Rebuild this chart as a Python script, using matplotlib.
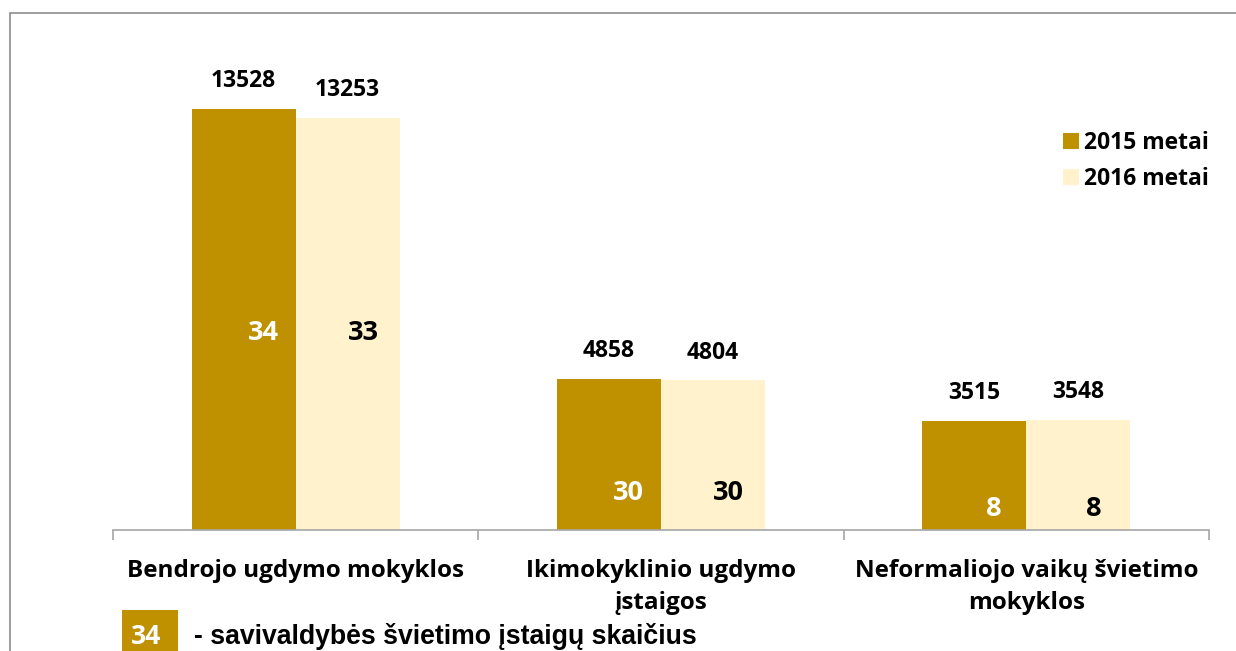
import matplotlib
matplotlib.use("Agg")
import matplotlib.pyplot as plt
from matplotlib.patches import Rectangle

categories = ["Bendrojo ugdymo mokyklos", "Ikimokyklinio ugdymo\nįstaigos", "Neformaliojo vaikų švietimo\nmokyklos"]
series_names = ["2015 metai", "2016 metai"]
values_2015 = [13528, 4858, 3515]
values_2016 = [13253, 4804, 3548]
counts_2015 = [34, 30, 8]
counts_2016 = [33, 30, 8]
count_label_y = [6330, 1190, 680]
note_text = "- savivaldybės švietimo įstaigų skaičius"
note_count = "34"

GOLD = "#BF9000"
LIGHT = "#FFF2CC"
GREY = "#A6A6A6"
FONT = ["Open Sans", "DejaVu Sans"]

fig = plt.figure(figsize=(12.36, 6.51), dpi=100)
ax = fig.add_axes([113/1236, 1-530/651, (1209-113)/1236, 500/651])

w = 0.285
x = list(range(len(categories)))
b1 = ax.bar([i - w/2 for i in x], values_2015, width=w, color=GOLD, label=series_names[0])
b2 = ax.bar([i + w/2 for i in x], values_2016, width=w, color=LIGHT, label=series_names[1])

ax.set_xlim(-0.5, len(categories) - 0.5)
ax.set_ylim(0, 13528 * 500 / 421)

for i in x:
    ax.annotate(str(values_2015[i]), (i - w/2, values_2015[i]), xytext=(0, 20), textcoords="offset points",
                ha="center", va="center", fontsize=16.5, fontweight="bold", family=FONT)
    ax.annotate(str(values_2016[i]), (i + w/2, values_2016[i]), xytext=(0, 20), textcoords="offset points",
                ha="center", va="center", fontsize=16.5, fontweight="bold", family=FONT)
    ax.annotate(str(counts_2015[i]), (i - w/2, count_label_y[i]), xytext=(14, 0), textcoords="offset points",
                ha="center", va="center", fontsize=19.5, fontweight="bold", color="white", family=FONT)
    ax.annotate(str(counts_2016[i]), (i + w/2, count_label_y[i]), xytext=(11, 0), textcoords="offset points",
                ha="center", va="center", fontsize=19.5, fontweight="bold", color="black", family=FONT)

for s in ["top", "right", "left"]:
    ax.spines[s].set_visible(False)
ax.spines["bottom"].set_color(GREY)
ax.spines["bottom"].set_linewidth(1.2)
ax.set_yticks([])
ax.set_xticks([i - 0.5 for i in range(len(categories) + 1)])
ax.set_xticklabels([])
ax.tick_params(axis="x", direction="out", length=7, width=1.2, color=GREY)
ax.set_xticks(x, minor=True)
ax.set_xticklabels(categories, minor=True, fontsize=17.5, fontweight="bold", family=FONT, linespacing=1.45)
ax.tick_params(axis="x", which="minor", length=0, pad=21)
for lbl in ax.get_xticklabels(minor=True):
    lbl.set_verticalalignment("top")

leg = ax.legend(loc="upper right", bbox_to_anchor=(1.019, 0.84), frameon=False,
                prop={"family": FONT, "weight": "bold", "size": 16.5},
                handlelength=0.7, handleheight=0.7, handletextpad=0.25, labelspacing=0.55)

# outer border
fig.patches.append(Rectangle((10/1236, -0.05), 1.1, 1 - 13/651 + 0.05, transform=fig.transFigure,
                             fill=False, edgecolor="#8C8C8C", linewidth=1.2, clip_on=False))

# note box
fig.patches.append(Rectangle((122/1236, 0), 56/1236, 41/651, transform=fig.transFigure,
                             facecolor=GOLD, edgecolor="none"))
fig.text(146/1236, 1 - 637/651, note_count, ha="center", va="center", fontsize=19, fontweight="bold",
         color="white", family=FONT)
fig.text(194/1236, 1 - 637/651, note_text, ha="left", va="center", fontsize=19.2, fontweight="bold",
         color="black", family=["Liberation Sans", "DejaVu Sans"])

fig.savefig("out.png", dpi=100)
